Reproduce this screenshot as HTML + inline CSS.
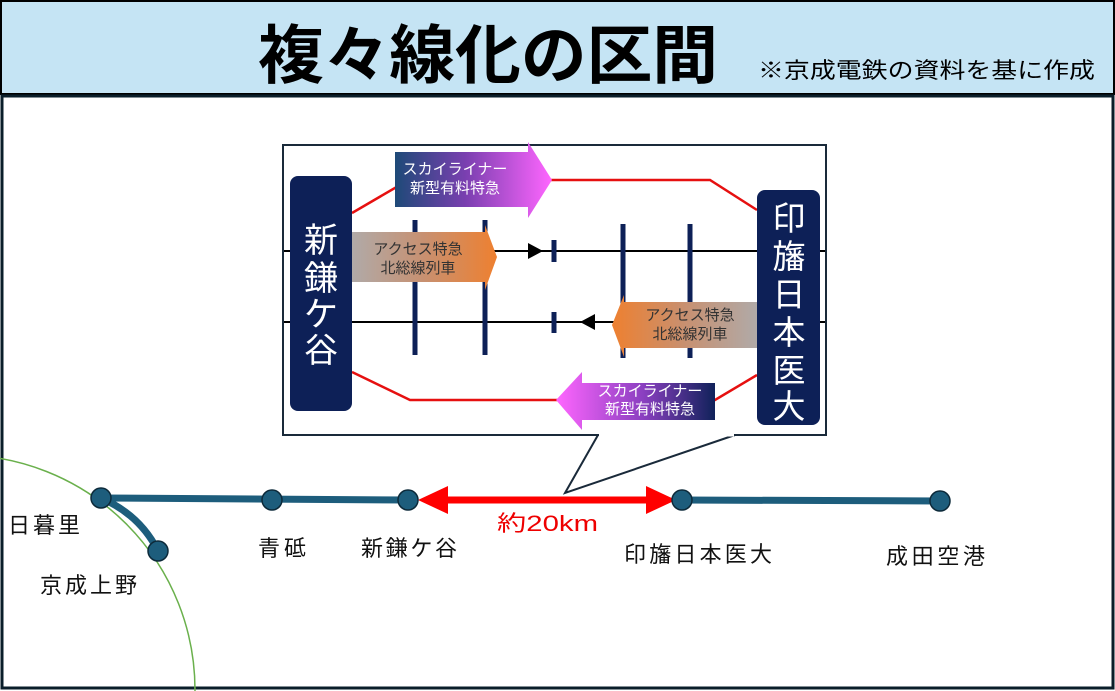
<!DOCTYPE html>
<html><head><meta charset="utf-8"><style>
html,body{margin:0;padding:0;width:1115px;height:691px;overflow:hidden;background:#fff;font-family:"Liberation Sans","Noto Sans CJK JP",sans-serif}
svg{display:block}
</style></head><body>
<svg width="1115" height="691" viewBox="0 0 1115 691" xmlns="http://www.w3.org/2000/svg" font-family="Liberation Sans, Noto Sans CJK JP, sans-serif" style="overflow:hidden">
<defs>
<linearGradient id="pk" x1="0" x2="1"><stop offset="0" stop-color="#1e4a78"/><stop offset="0.45" stop-color="#7a3fb0"/><stop offset="1" stop-color="#ff66ff"/></linearGradient>
<linearGradient id="pk2" x1="1" x2="0"><stop offset="0" stop-color="#10225a"/><stop offset="0.45" stop-color="#8a3fc0"/><stop offset="1" stop-color="#ff66ff"/></linearGradient>
<linearGradient id="or" x1="0" x2="1"><stop offset="0" stop-color="#b0aaa8"/><stop offset="0.5" stop-color="#c89070"/><stop offset="1" stop-color="#ee8030"/></linearGradient>
<linearGradient id="or2" x1="1" x2="0"><stop offset="0" stop-color="#b0aaa8"/><stop offset="0.5" stop-color="#c89070"/><stop offset="1" stop-color="#ee8030"/></linearGradient>
<clipPath id="cp"><rect x="0" y="0" width="1115" height="691"/></clipPath>
</defs>
<g clip-path="url(#cp)">
<rect x="1" y="1" width="1113" height="93" fill="#c5e4f4" stroke="#000" stroke-width="2"/>
<text x="488" y="78" font-size="64" font-weight="bold" text-anchor="middle" textLength="460" lengthAdjust="spacingAndGlyphs">複々線化の区間</text>
<text x="758" y="78" font-size="22" textLength="337" lengthAdjust="spacingAndGlyphs">※京成電鉄の資料を基に作成</text>
<rect x="2" y="96" width="1111" height="592" fill="#fff" stroke="#0a1e2a" stroke-width="3"/>
<circle cx="-40" cy="690" r="235" fill="none" stroke="#6ab04c" stroke-width="1.5"/>
<rect x="283" y="145" width="543" height="290" fill="#fff" stroke="#1a2a3a" stroke-width="2"/>
<polyline points="598,435 565,493 735,435" fill="none" stroke="#1a2a3a" stroke-width="2"/>
<line x1="599" y1="435" x2="734" y2="435" stroke="#fff" stroke-width="3"/>
<line x1="284" y1="251" x2="825" y2="251" stroke="#000" stroke-width="2"/>
<line x1="284" y1="322" x2="825" y2="322" stroke="#000" stroke-width="2"/>
<polyline points="352,213 400,185 550,180 710,180 757,210" fill="none" stroke="#e61010" stroke-width="2.5"/>
<polyline points="352,372 410,400 555,400 715,400 757,375" fill="none" stroke="#e61010" stroke-width="2.5"/>
<g stroke="#0d2057" stroke-width="5"><line x1="415" y1="220" x2="415" y2="355"/><line x1="485" y1="220" x2="485" y2="355"/><line x1="623" y1="224" x2="623" y2="358"/><line x1="690" y1="224" x2="690" y2="358"/><line x1="554" y1="240" x2="554" y2="262"/><line x1="554" y1="312" x2="554" y2="333"/></g>
<polygon points="528,243 543,251 528,259" fill="#000"/>
<polygon points="595,314 580,322 595,330" fill="#000"/>
<polygon points="352,232 485,232 485,225 497,257 485,290 485,282 352,282" fill="url(#or)"/>
<text x="418" y="254" font-size="15" fill="#333" text-anchor="middle">アクセス特急</text>
<text x="418" y="273" font-size="15" fill="#333" text-anchor="middle">北総線列車</text>
<polygon points="757,302 624,302 624,295 612,325 624,357 624,348 757,348" fill="url(#or2)"/>
<text x="690" y="320" font-size="15" fill="#333" text-anchor="middle">アクセス特急</text>
<text x="690" y="339" font-size="15" fill="#333" text-anchor="middle">北総線列車</text>
<polygon points="395,152 528,152 528,142 552,180 528,218 528,207 395,207" fill="url(#pk)"/>
<text x="455" y="174" font-size="15" fill="#fff" text-anchor="middle">スカイライナー</text>
<text x="455" y="193" font-size="15" fill="#fff" text-anchor="middle">新型有料特急</text>
<polygon points="715,383 582,383 582,372 556,400 582,430 582,420 715,420" fill="url(#pk2)"/>
<text x="650" y="396" font-size="15" fill="#fff" text-anchor="middle">スカイライナー</text>
<text x="650" y="414" font-size="15" fill="#fff" text-anchor="middle">新型有料特急</text>
<rect x="290" y="176" width="62" height="235" rx="8" fill="#0d2057"/>
<g fill="#fff" font-size="34" text-anchor="middle"><text x="321" y="252">新</text><text x="321" y="290">鎌</text><text x="321" y="326">ケ</text><text x="321" y="362">谷</text></g>
<rect x="757" y="190" width="63" height="235" rx="8" fill="#0d2057"/>
<g fill="#fff" font-size="33" text-anchor="middle"><text x="789" y="230">印</text><text x="789" y="268">旛</text><text x="789" y="306">日</text><text x="789" y="344">本</text><text x="789" y="382">医</text><text x="789" y="418">大</text></g>
<path d="M101,498 Q140,515 158,551" fill="none" stroke="#1d5d7c" stroke-width="7"/>
<line x1="101" y1="498" x2="408" y2="500" stroke="#1d5d7c" stroke-width="7"/>
<line x1="682" y1="500" x2="940" y2="501" stroke="#1d5d7c" stroke-width="7"/>
<line x1="440" y1="500" x2="655" y2="500" stroke="#f00" stroke-width="7"/>
<polygon points="418,500 448,486 448,514" fill="#f00"/>
<polygon points="676,500 646,486 646,514" fill="#f00"/>
<g fill="#1d5d7c" stroke="#0d2a3a" stroke-width="1.5"><circle cx="101" cy="498" r="10"/><circle cx="158" cy="551" r="10"/><circle cx="272" cy="500" r="10"/><circle cx="408" cy="500" r="10"/><circle cx="682" cy="500" r="10"/><circle cx="940" cy="501" r="10"/></g>
<g font-size="22" fill="#111" lengthAdjust="spacingAndGlyphs"><text x="8" y="533" textLength="72">日暮里</text><text x="40" y="593" textLength="97">京成上野</text><text x="258" y="556" textLength="48">青砥</text><text x="361" y="556" textLength="96">新鎌ケ谷</text><text x="624" y="562" textLength="148">印旛日本医大</text><text x="886" y="564" textLength="99">成田空港</text></g>
<text x="497" y="531" font-size="22" fill="#e00" textLength="101" lengthAdjust="spacingAndGlyphs">約20km</text>
</g>
</svg>
</body></html>
